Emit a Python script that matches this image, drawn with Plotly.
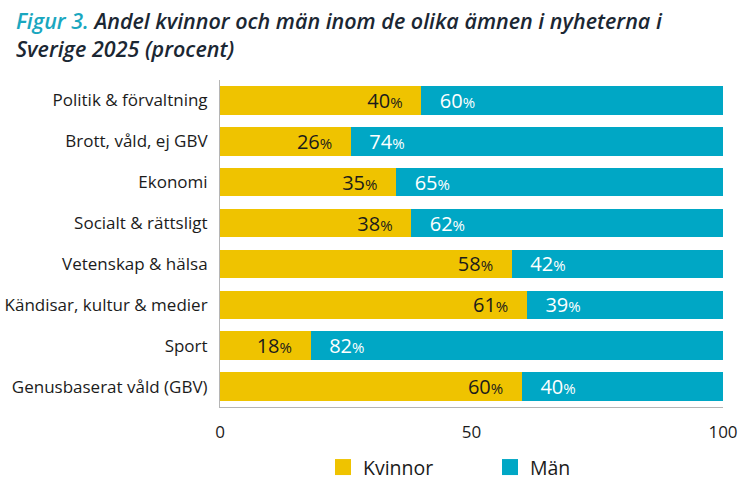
import plotly.graph_objects as go

categories = ["Politik & förvaltning", "Brott, våld, ej GBV", "Ekonomi", "Socialt & rättsligt",
              "Vetenskap & hälsa", "Kändisar, kultur & medier", "Sport", "Genusbaserat våld (GBV)"]
kvinnor = [40, 26, 35, 38, 58, 61, 18, 60]
man = [60, 74, 65, 62, 42, 39, 82, 40]
x_ticks = [0, 50, 100]

YELLOW = "#EFC300"
TEAL = "#00A7C5"
FONT = "Open Sans"
NB = "\u00a0"

def lbl_end(v):
    return f"{v}<span style='font-size:15px'>%</span>{NB*3}"

def lbl_start(v):
    return f"{NB*3}{v}<span style='font-size:15px'>%</span>"

fig = go.Figure()
fig.add_trace(go.Bar(
    y=categories, x=kvinnor, name="Kvinnor", orientation="h", showlegend=False,
    marker=dict(color=YELLOW, line=dict(width=0)),
    text=[lbl_end(v) for v in kvinnor], textposition="inside", insidetextanchor="end",
    constraintext="none",
    textfont=dict(color="#1b1b1b", size=20, family=FONT), hoverinfo="x+y",
))
fig.add_trace(go.Bar(
    y=categories, x=man, name="Män", orientation="h", showlegend=False,
    marker=dict(color=TEAL, line=dict(width=0)),
    text=[lbl_start(v) for v in man], textposition="inside", insidetextanchor="start",
    constraintext="none",
    textfont=dict(color="white", size=20, family=FONT), hoverinfo="x+y",
))
# legend entries with larger square swatches
for name, col in [("Kvinnor", YELLOW), ("Män", TEAL)]:
    fig.add_trace(go.Scatter(x=[None], y=[None], mode="markers", name=name,
                             marker=dict(symbol="square", size=20, color=col),
                             showlegend=True, hoverinfo="skip"))

fig.update_layout(
    barmode="stack", bargap=0.3,
    width=747, height=491,
    margin=dict(l=220, r=24, t=80, b=84, autoexpand=False),
    paper_bgcolor="white", plot_bgcolor="white",
    font=dict(family=FONT, color="#1b1b1b"),
    uniformtext=dict(mode="show", minsize=20),
    legend=dict(orientation="h", x=(323 - 220) / 503, xref="paper", xanchor="left",
                y=-0.125, yanchor="top", font=dict(size=19.5, family=FONT),
                traceorder="normal", entrywidthmode="pixels", entrywidth=122),
    xaxis=dict(range=[0, 100], tickvals=x_ticks, showgrid=False, zeroline=False,
               showline=True, linecolor="#b5b5b5", linewidth=1,
               ticks="outside", ticklen=10, tickcolor="rgba(0,0,0,0)",
               tickfont=dict(size=17), fixedrange=True),
    yaxis=dict(categoryorder="array", categoryarray=categories, autorange="reversed",
               showgrid=False, showline=True, linecolor="#b5b5b5", linewidth=1,
               ticks="outside", ticklen=8, tickcolor="rgba(0,0,0,0)",
               tickfont=dict(size=17), fixedrange=True),
    annotations=[dict(
        text="<span style='color:#1AA7BF'>Figur 3.</span> Andel kvinnor och män inom de olika ämnen i nyheterna i<br>Sverige 2025 (procent)",
        xref="paper", yref="paper", x=(14 - 220) / 503, y=(407 - 4) / 327,
        xanchor="left", yanchor="top", align="left", showarrow=False,
        font=dict(family=FONT, size=21.5, color="#1b2733", style="italic", weight=600),
    )],
)

fig.write_html("out.html", config={"displayModeBar": False},
               post_script="document.body.style.margin='0';")
